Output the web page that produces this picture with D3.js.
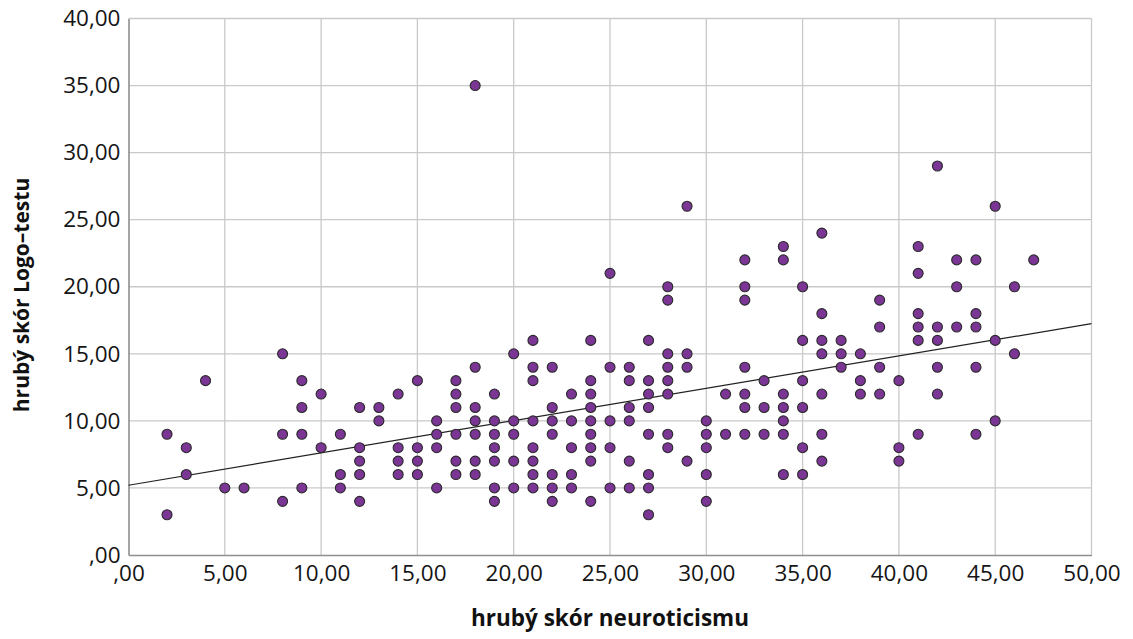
<!DOCTYPE html>
<html>
<head>
<meta charset="utf-8">
<script src="https://cdn.jsdelivr.net/npm/d3@7"></script>
<style>
  html, body { margin: 0; padding: 0; background: #fff; }
  svg { display: block; font-family: "Open Sans", Lato, sans-serif; }
</style>
</head>
<body>
<svg id="chart" width="1133" height="639"></svg>
<script>
// Neuroticism raw score (x) against Logo-test raw score (y), one entry per respondent
const neuroticism = [
  2,2,3,3,4,5,6,8,8,8,9,9,9,9,10,10,11,11,11,12,12,12,12,12,
  13,13,14,14,14,14,15,15,15,15,16,16,16,16,
  17,17,17,17,17,17,18,18,18,18,18,18,18,
  19,19,19,19,19,19,19,20,20,20,20,20,
  21,21,21,21,21,21,21,21,22,22,22,22,22,22,22,
  23,23,23,23,23,24,24,24,24,24,24,24,24,24,
  25,25,25,25,25,26,26,26,26,26,26,
  27,27,27,27,27,27,27,27,28,28,28,28,28,28,28,28,
  29,29,29,29,30,30,30,30,30,31,31,
  32,32,32,32,32,32,32,33,33,33,
  34,34,34,34,34,34,34,35,35,35,35,35,35,
  36,36,36,36,36,36,36,37,37,37,38,38,38,
  39,39,39,39,40,40,40,41,41,41,41,41,41,
  42,42,42,42,42,43,43,43,44,44,44,44,44,
  45,45,45,46,46,47
];
const logoTest = [
  9,3,8,6,13,5,5,15,9,4,13,11,9,5,12,8,9,6,5,11,8,7,6,4,
  11,10,12,8,7,6,13,8,7,6,10,9,8,5,
  13,12,11,9,7,6,35,14,11,10,9,7,6,
  12,10,9,8,7,5,4,15,10,9,7,5,
  16,14,13,10,8,7,6,5,14,11,10,9,6,5,4,
  12,10,8,6,5,16,13,12,11,10,9,8,7,4,
  21,14,10,8,5,14,13,11,10,7,5,
  16,13,12,11,9,6,5,3,20,19,15,14,13,12,9,8,
  26,15,14,7,10,9,8,6,4,12,9,
  22,20,19,14,12,11,9,13,11,9,
  23,22,12,11,10,9,6,20,16,13,11,8,6,
  24,18,16,15,12,9,7,16,15,14,15,13,12,
  19,17,14,12,13,8,7,23,21,18,17,16,9,
  29,17,16,14,12,22,20,17,22,18,17,14,9,
  26,16,10,20,15,22
];

// Linear fit drawn across the full x range
const fitX = [0, 50];
const fitY = [5.2, 17.25];

const xTicks = [0, 5, 10, 15, 20, 25, 30, 35, 40, 45, 50];
const yTicks = [0, 5, 10, 15, 20, 25, 30, 35, 40];

const points = neuroticism.map((v, i) => ({ x: v, y: logoTest[i] }));

const svg = d3.select("#chart");
const plotL = 128.5, plotR = 1091.5, plotT = 18.5, plotB = 555;

const x = d3.scaleLinear().domain([0, 50]).range([plotL, plotR]);
const y = d3.scaleLinear().domain([0, 40]).range([plotB, plotT]);

const fmt = v => v === 0 ? ",00" : d3.format(".2f")(v).replace(".", ",");

// grid
const grid = svg.append("g");
grid.selectAll(".gx").data(xTicks.filter(d => d > 0)).join("line")
  .attr("x1", d => x(d)).attr("x2", d => x(d))
  .attr("y1", plotT).attr("y2", plotB)
  .attr("stroke", "#c9c9c9").attr("stroke-width", 1.3);
grid.selectAll(".gy").data(yTicks.filter(d => d > 0)).join("line")
  .attr("x1", plotL).attr("x2", plotR)
  .attr("y1", d => y(d)).attr("y2", d => y(d))
  .attr("stroke", "#c9c9c9").attr("stroke-width", 1.3);

// axes
const xAxis = d3.axisBottom(x).tickValues(xTicks).tickFormat(fmt).tickSize(0).tickPadding(10);
const yAxis = d3.axisLeft(y).tickValues(yTicks).tickFormat(fmt).tickSize(0).tickPadding(8);

const gx = svg.append("g").attr("transform", `translate(0,${plotB})`).call(xAxis);
const gy = svg.append("g").attr("transform", `translate(${plotL},0)`).call(yAxis);
[gx, gy].forEach(g => {
  g.select(".domain").attr("stroke", "#8f8f8f").attr("stroke-width", 1.6);
  g.selectAll("text").attr("font-size", 22.5).attr("fill", "#151515")
    .attr("font-family", "'Open Sans', sans-serif");
});

// regression line
const line = d3.line().x(d => x(d[0])).y(d => y(d[1]));
svg.append("path")
  .datum(fitX.map((v, i) => [v, fitY[i]]))
  .attr("d", line)
  .attr("fill", "none")
  .attr("stroke", "#222")
  .attr("stroke-width", 1.2);

// points
svg.append("g").selectAll("circle").data(points).join("circle")
  .attr("cx", d => x(d.x))
  .attr("cy", d => y(d.y))
  .attr("r", 5)
  .attr("fill", "#7a3595")
  .attr("stroke", "#2a2a2a")
  .attr("stroke-width", 1.1);

// axis titles
svg.append("text")
  .attr("x", (plotL + plotR) / 2).attr("y", 626)
  .attr("text-anchor", "middle")
  .attr("font-size", 22.5).attr("font-weight", "bold").attr("fill", "#111")
  .text("hrubý skór neuroticismu");

svg.append("text")
  .attr("transform", "translate(29,295) rotate(-90)")
  .attr("text-anchor", "middle")
  .attr("font-size", 21).attr("font-weight", "bold").attr("fill", "#111")
  .text("hrubý skór Logo–testu");
</script>
</body>
</html>
